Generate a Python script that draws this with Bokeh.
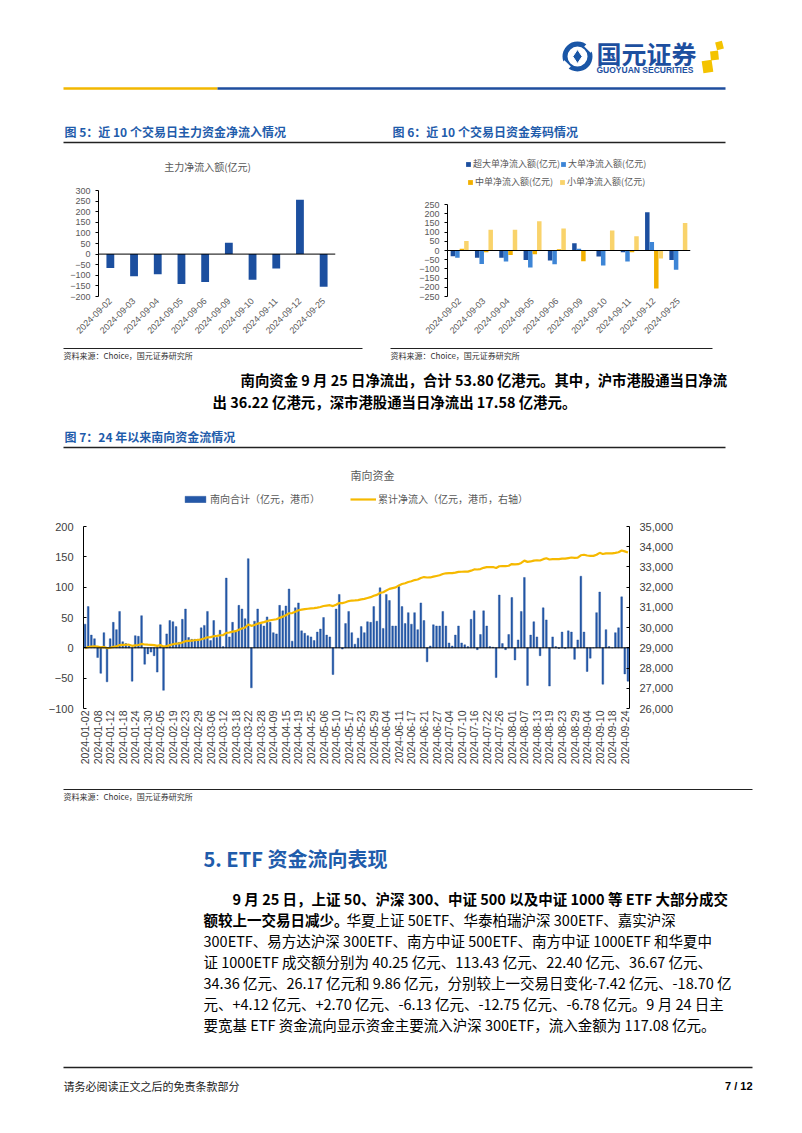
import math
from bokeh.plotting import figure
from bokeh.models import (Range1d, FactorRange, LinearAxis, FixedTicker, Span, Legend,
                          LegendItem, ColumnDataSource, NumeralTickFormatter, Label)
from bokeh.layouts import column, row
from bokeh.transform import dodge
from bokeh.core.properties import value
from bokeh.embed import file_html
from bokeh.resources import INLINE

CJK = "Noto Sans CJK SC"
LAT = "Liberation Sans"
BLUE = "#1C4F9F"
TITLE_BLUE = "#1F5CAB"
GRAY = "#595959"

# ---------------- data: figure 5 / 6 ----------------
fig5_dates = ["2024-09-02", "2024-09-03", "2024-09-04", "2024-09-05", "2024-09-06",
              "2024-09-09", "2024-09-10", "2024-09-11", "2024-09-12", "2024-09-25"]
main_inflow = [-65, -105, -95, -141, -132, 54, -121, -68, 256, -154]
fig5_yticks = [-200, -150, -100, -50, 0, 50, 100, 150, 200, 250, 300]

super_large = [-31, -40, -40, -51, -55, 40, -33, -9, 208, -51]
large_order = [-40, -73, -60, -93, -75, 9, -82, -60, 46, -104]
medium_order = [9, -9, -24, -20, 7, -58, -3, -9, -206, -3]
small_order = [51, 113, 113, 159, 119, 3, 109, 77, -44, 150]
fig6_yticks = [-250, -200, -150, -100, -50, 0, 50, 100, 150, 200, 250]

# ---------------- data: figure 7 (southbound) ----------------
south_days = (
    ["01-02", "01-03", "01-04", "01-05", "01-08", "01-09", "01-10", "01-11", "01-12", "01-15",
     "01-16", "01-17", "01-18", "01-19", "01-22", "01-23", "01-24", "01-25", "01-26", "01-29",
     "01-30", "01-31"] +
    ["02-01", "02-02", "02-05", "02-06", "02-07", "02-08", "02-19", "02-20", "02-21", "02-22",
     "02-23", "02-26", "02-27", "02-28", "02-29"] +
    ["03-01", "03-04", "03-05", "03-06", "03-07", "03-08", "03-11", "03-12", "03-13", "03-14",
     "03-15", "03-18", "03-19", "03-20", "03-21", "03-22", "03-25", "03-26", "03-27", "03-28"] +
    ["04-02", "04-03", "04-08", "04-09", "04-10", "04-11", "04-12", "04-15", "04-16", "04-17",
     "04-18", "04-19", "04-22", "04-23", "04-24", "04-25", "04-26", "04-29", "04-30"] +
    ["05-06", "05-07", "05-08", "05-09", "05-10", "05-13", "05-14", "05-16", "05-17", "05-20",
     "05-21", "05-22", "05-23", "05-24", "05-27", "05-28", "05-29", "05-30", "05-31"] +
    ["06-03", "06-04", "06-05", "06-06", "06-07", "06-11", "06-12", "06-13", "06-14", "06-17",
     "06-18", "06-19", "06-20", "06-21", "06-24", "06-25", "06-26", "06-27", "06-28"] +
    ["07-02", "07-03", "07-04", "07-05", "07-08", "07-09", "07-10", "07-11", "07-12", "07-15",
     "07-16", "07-17", "07-18", "07-19", "07-22", "07-23", "07-24", "07-25", "07-26", "07-29",
     "07-30", "07-31"] +
    ["08-01", "08-02", "08-05", "08-06", "08-07", "08-08", "08-09", "08-12", "08-13", "08-14",
     "08-15", "08-16", "08-19", "08-20", "08-21", "08-22", "08-23", "08-26", "08-27", "08-28",
     "08-29", "08-30"] +
    ["09-02", "09-03", "09-04", "09-05", "09-06", "09-09", "09-10", "09-11", "09-12", "09-13",
     "09-18", "09-19", "09-20", "09-23", "09-24", "09-25"]
)
south_dates = ["2024-" + d for d in south_days]

south_total = [
    39, 68, 21, 15, -16, -42, 25, -56, 15, 42,
    30, 60, 10, 7, 3, -55, 20, 19, 53, -27,
    -10, -7, -13, -40, 38, -70, 23, 45, 43, 35,
    9, 47, 64, 17, 14, 14, 14, 33, 37, 60,
    12, 45, 17, 29, 2, 115, 18, 42, 26, 70,
    64, 48, 147, -66, 44, 64, 39, 36, 51, 42,
    25, 23, 70, 61, 69, 97, 11, 66, 74, 28,
    24, 20, 18, 12, 26, 31, 50, 21, 18, -44,
    64, 88, -2, 40, 60, 25, 6, 16, 35, 25,
    43, 42, 68, 44, 99, 32, 88, 78, 36, 36,
    101, 68, 40, 58, 39, 58, 30, 74, 45, -23,
    3, 38, 36, 36, 60, 36, 8, 3, 21, 36,
    8, 5, 2, 47, 61, -3, 22, 61, 36, 2,
    1, -49, 87, 7, -3, 22, 83, -20, 13, 60,
    116, -62, 21, 43, 18, -13, 66, 46, -63, 18,
    2, -1, 26, -1, 28, 26, -19, 13, 118, 26,
    -39, -17, 0, 58, 92, -60, 30, 2, 0, 25,
    33, 84, -43, -55,
]

south_cum = [
    28974, 29042, 29063, 29078, 29062, 29020, 29045, 28989, 29004, 29046,
    29076, 29136, 29146, 29153, 29156, 29101, 29121, 29140, 29193, 29166,
    29156, 29149, 29136, 29096, 29134, 29064, 29087, 29132, 29175, 29210,
    29219, 29266, 29330, 29347, 29361, 29375, 29389, 29422, 29459, 29519,
    29531, 29576, 29593, 29622, 29624, 29739, 29757, 29799, 29825, 29895,
    29959, 30007, 30154, 30088, 30132, 30196, 30235, 30271, 30322, 30364,
    30389, 30412, 30482, 30543, 30612, 30709, 30720, 30786, 30860, 30888,
    30912, 30932, 30950, 30962, 30988, 31019, 31069, 31090, 31108, 31064,
    31128, 31216, 31214, 31254, 31314, 31339, 31345, 31361, 31396, 31421,
    31464, 31506, 31574, 31618, 31717, 31749, 31837, 31915, 31951, 31987,
    32088, 32156, 32196, 32254, 32293, 32351, 32381, 32455, 32500, 32477,
    32480, 32518, 32554, 32590, 32650, 32686, 32694, 32697, 32718, 32754,
    32762, 32767, 32769, 32816, 32877, 32874, 32896, 32957, 32993, 32995,
    32996, 32947, 33034, 33041, 33038, 33060, 33143, 33123, 33136, 33196,
    33312, 33250, 33271, 33314, 33332, 33319, 33385, 33431, 33368, 33386,
    33388, 33387, 33413, 33412, 33440, 33466, 33447, 33460, 33578, 33604,
    33565, 33548, 33548, 33606, 33698, 33638, 33668, 33670, 33670, 33695,
    33728, 33812, 33769, 33714,
]
south_left_ticks = [-100, -50, 0, 50, 100, 150, 200]
south_right_ticks = [26000, 27000, 28000, 29000, 30000, 31000, 32000, 33000, 34000, 35000]
south_label_step = 4

# ---------------- page text ----------------
fig5_title = "图 5：近 10 个交易日主力资金净流入情况"
fig6_title = "图 6：近 10 个交易日资金筹码情况"
fig5_chart_title = "主力净流入额(亿元)"
fig7_title = "图 7：24 年以来南向资金流情况"
fig7_chart_title = "南向资金"
source_text = "资料来源：Choice，国元证券研究所"
para1 = ["南向资金 9 月 25 日净流出，合计 53.80 亿港元。其中，沪市港股通当日净流",
         "出 36.22 亿港元，深市港股通当日净流出 17.58 亿港元。"]
heading5 = "5. ETF 资金流向表现"
para2_bold = ["9 月 25 日，上证 50、沪深 300、中证 500 以及中证 1000 等 ETF 大部分成交",
              "额较上一交易日减少。"]
para2_rest = ["华夏上证 50ETF、华泰柏瑞沪深 300ETF、嘉实沪深",
              "300ETF、易方达沪深 300ETF、南方中证 500ETF、南方中证 1000ETF 和华夏中",
              "证 1000ETF 成交额分别为 40.25 亿元、113.43 亿元、22.40 亿元、36.67 亿元、",
              "34.36 亿元、26.17 亿元和 9.86 亿元，分别较上一交易日变化-7.42 亿元、-18.70 亿",
              "元、+4.12 亿元、+2.70 亿元、-6.13 亿元、-12.75 亿元、-6.78 亿元。9 月 24 日主",
              "要宽基 ETF 资金流向显示资金主要流入沪深 300ETF，流入金额为 117.08 亿元。"]
footer_text = "请务必阅读正文之后的免责条款部分"
page_no = "7 / 12"

W = 802


def page_fig(y0, y1):
    p = figure(width=W, height=y1 - y0, x_range=Range1d(0, W), y_range=Range1d(y1, y0),
               output_backend="svg", toolbar_location=None, min_border=0,
               x_axis_type=None, y_axis_type=None, frame_align=False)
    p.outline_line_color = None
    p.background_fill_color = "white"
    p.border_fill_color = "white"
    return p


def put_text(p, x, y, s, size, color="#000000", bold=False, font=CJK, align="left"):
    p.text(x=[x], y=[y], text=[s], text_font=value(font), text_font_size=value("%spx" % size),
           text_color=color, text_font_style="bold" if bold else "normal",
           text_align=align, text_baseline="middle")


def hline(p, x0, x1, y, color, w):
    p.segment(x0=[x0], y0=[y], x1=[x1], y1=[y], line_color=color, line_width=w)


def style_axis(ax, size, color=GRAY):
    ax.major_label_text_font = LAT
    ax.major_label_text_font_size = size
    ax.major_label_text_color = color
    ax.minor_tick_line_color = None
    ax.axis_line_color = "#000000"
    ax.major_tick_line_color = "#000000"


def style_legend(lg, size, gw, gh, lh, spacing):
    lg.label_text_font = CJK
    lg.label_text_font_size = size
    lg.label_text_color = GRAY
    lg.glyph_width = gw
    lg.glyph_height = gh
    lg.label_standoff = 2
    lg.label_height = lh
    lg.spacing = spacing
    lg.padding = 0
    lg.margin = 0
    lg.border_line_color = None
    lg.background_fill_alpha = 0


# ---------------- header (page y 0..153) ----------------
hdr = page_fig(0, 153)
hdr.annulus(x=[577], y=[56], inner_radius=10, outer_radius=15, fill_color="#1A56A6",
            line_color=None)
hdr.rect(x=[589, 565], y=[47, 65], width=[6, 6], height=[9, 9], angle=[0.8, 0.8],
         fill_color="white", line_color=None)
hdr.scatter(x=[577], y=[56], marker="diamond", size=14, fill_color="#1A56A6",
            line_color="white", line_width=1)
put_text(hdr, 596, 52, "国元证券", 25, color="#1D4F9F", bold=True)
put_text(hdr, 596, 69, "GUOYUAN SECURITIES", 8.5, color="#1D4F9F", bold=True, font=LAT)
hdr.rect(x=[707, 714, 719], y=[66, 55, 45], width=[10, 8, 7], height=[12, 9, 8],
         angle=[0.15, 0.1, 0.25], fill_color="#F4C300", line_color=None)
hline(hdr, 63, 217, 88, "#F2B700", 2.5)
hline(hdr, 217, 725, 88, "#1F4E9E", 2.5)
put_text(hdr, 64, 131, fig5_title, 12, color=TITLE_BLUE, bold=True)
put_text(hdr, 392, 131, fig6_title, 12, color=TITLE_BLUE, bold=True)
hline(hdr, 63, 725, 142, "#222222", 1.5)

# ---------------- figure 5 (page x 0..385, y 153..346; frame extended upward for its title) ----
f5_plot_h = 106
f5_extra = 32
p5 = figure(width=385, height=193, x_range=FactorRange(factors=fig5_dates),
            y_range=Range1d(-200, 300 + f5_extra * 500.0 / f5_plot_h),
            output_backend="svg", toolbar_location=None,
            min_border_left=98, min_border_right=50, min_border_top=5, min_border_bottom=50,
            frame_align=False)
p5.outline_line_color = None
p5.grid.visible = False
p5.title.text = ""
p5.title.standoff = 0
p5.vbar(x=fig5_dates, top=main_inflow, width=0.33, fill_color=BLUE, line_color=None)
p5.add_layout(Span(location=0, dimension="width", line_color="#000000", line_width=1))
p5.add_layout(Label(x=4.6, y=300 + 24 * 500.0 / f5_plot_h, text=fig5_chart_title,
                    text_font=CJK, text_font_size="10px", text_color=GRAY,
                    text_align="center", text_baseline="middle"))
p5.yaxis.ticker = FixedTicker(ticks=fig5_yticks)
p5.yaxis.bounds = (-200, 300)
style_axis(p5.yaxis[0], "9px")
p5.yaxis.major_tick_in = 0
p5.yaxis.major_tick_out = 3
style_axis(p5.xaxis[0], "9px")
p5.xaxis.axis_line_color = None
p5.xaxis.major_tick_line_color = None
p5.xaxis.major_tick_out = 0
p5.xaxis.major_tick_in = 0
p5.xaxis.major_label_orientation = math.pi / 4
p5.xaxis.major_label_standoff = 3

# ---------------- figure 6 (page x 385..802; frame extended upward for its legend) ----------------
src6 = ColumnDataSource(dict(date=fig5_dates, sl=super_large, l=large_order,
                             m=medium_order, s=small_order))
f6_plot_h = 92
f6_extra = 46
p6 = figure(width=417, height=193, x_range=FactorRange(factors=fig5_dates),
            y_range=Range1d(-250, 250 + f6_extra * 500.0 / f6_plot_h),
            output_backend="svg", toolbar_location=None,
            min_border_left=62, min_border_right=112, min_border_top=5, min_border_bottom=50,
            frame_align=False)
p6.outline_line_color = None
p6.grid.visible = False
bw = 0.185
r_sl = p6.vbar(x=dodge("date", -1.5 * bw, range=p6.x_range), top="sl", width=bw, source=src6,
               fill_color="#1C4F9F", line_color=None)
r_l = p6.vbar(x=dodge("date", -0.5 * bw, range=p6.x_range), top="l", width=bw, source=src6,
              fill_color="#3D85D6", line_color=None)
r_m = p6.vbar(x=dodge("date", 0.5 * bw, range=p6.x_range), top="m", width=bw, source=src6,
              fill_color="#F2B000", line_color=None)
r_s = p6.vbar(x=dodge("date", 1.5 * bw, range=p6.x_range), top="s", width=bw, source=src6,
              fill_color="#F9D36B", line_color=None)
p6.add_layout(Span(location=0, dimension="width", line_color="#000000", line_width=1))
p6.yaxis.ticker = FixedTicker(ticks=fig6_yticks)
p6.yaxis.bounds = (-250, 250)
style_axis(p6.yaxis[0], "9px")
p6.yaxis.major_tick_in = 0
p6.yaxis.major_tick_out = 3
style_axis(p6.xaxis[0], "9px")
p6.xaxis.axis_line_color = None
p6.xaxis.major_tick_line_color = None
p6.xaxis.major_tick_out = 0
p6.xaxis.major_tick_in = 0
p6.xaxis.major_label_orientation = math.pi / 4
p6.xaxis.major_label_standoff = 3

leg6a = Legend(items=[LegendItem(label="超大单净流入额(亿元)", renderers=[r_sl]),
                      LegendItem(label="大单净流入额(亿元)", renderers=[r_l])],
               orientation="horizontal", location=(18, 126))
style_legend(leg6a, "9px", 6, 6, 10, 0)
leg6b = Legend(items=[LegendItem(label="中单净流入额(亿元)", renderers=[r_m]),
                      LegendItem(label="小单净流入额(亿元)", renderers=[r_s])],
               orientation="horizontal", location=(20, 108))
style_legend(leg6b, "9px", 6, 6, 10, 6)
p6.add_layout(leg6a)
p6.add_layout(leg6b)

# ---------------- middle text (page y 346..485) ----------------
mid = page_fig(346, 485)
hline(mid, 63, 362, 348, "#222222", 1)
hline(mid, 390, 712, 348, "#222222", 1)
put_text(mid, 63, 355, source_text, 8, color="#333333")
put_text(mid, 390, 355, source_text, 8, color="#333333")
put_text(mid, 240, 379, para1[0], 14.4, bold=True)
put_text(mid, 212, 401, para1[1], 14.4, bold=True)
put_text(mid, 64, 436, fig7_title, 12, color=TITLE_BLUE, bold=True)
hline(mid, 63, 725, 447, "#222222", 1.5)
put_text(mid, 372, 474, fig7_chart_title, 11, color=GRAY, align="center")

# ---------------- figure 7 (page y 485..788; frame extended upward for legend) ----------------
idx = list(range(len(south_total)))
f7_plot_h = 182
f7_extra = 37
p7 = figure(width=W, height=4 + f7_plot_h + f7_extra + 80,
            x_range=Range1d(-0.5, len(south_total) - 0.5),
            y_range=Range1d(-100, 200 + f7_extra * 300.0 / f7_plot_h),
            output_backend="svg", toolbar_location=None,
            min_border_left=83, min_border_right=173, min_border_top=4, min_border_bottom=80,
            frame_align=False)
p7.outline_line_color = None
p7.grid.visible = False
p7.extra_y_ranges = {"cum": Range1d(26000, 35000 + f7_extra * 9000.0 / f7_plot_h)}
bars7 = p7.vbar(x=idx, top=south_total, width=0.55, fill_color="#2458A8", line_color="#1B4C98",
                line_width=0.4)
p7.add_layout(Span(location=0, dimension="width", line_color="#000000", line_width=1))
line7 = p7.line(x=idx, y=south_cum, y_range_name="cum", line_color="#F6B900", line_width=2.2)
tick_idx = idx[::south_label_step]
p7.xaxis.ticker = FixedTicker(ticks=tick_idx)
p7.xaxis.major_label_overrides = {i: south_dates[i] for i in tick_idx}
style_axis(p7.xaxis[0], "10.5px", color="#404040")
p7.xaxis.axis_line_color = None
p7.xaxis.major_tick_line_color = None
p7.xaxis.major_tick_out = 0
p7.xaxis.major_tick_in = 0
p7.xaxis.major_label_orientation = math.pi / 2
p7.xaxis.major_label_standoff = 2
p7.yaxis.ticker = FixedTicker(ticks=south_left_ticks)
p7.yaxis.bounds = (-100, 200)
style_axis(p7.yaxis[0], "11px", color="#404040")
p7.yaxis.major_tick_in = 3
p7.yaxis.major_tick_out = 0
p7.yaxis.major_label_standoff = 10
rax = LinearAxis(y_range_name="cum", ticker=FixedTicker(ticks=south_right_ticks),
                 formatter=NumeralTickFormatter(format="0,0"), bounds=(26000, 35000))
style_axis(rax, "11px", color="#404040")
rax.major_tick_in = 3
rax.major_tick_out = 0
rax.major_label_standoff = 10
p7.add_layout(rax, "right")
leg7 = Legend(items=[LegendItem(label="南向合计（亿元，港币）", renderers=[bars7]),
                     LegendItem(label="累计净流入（亿元，港币，右轴）", renderers=[line7])],
              orientation="horizontal", location=(99, 202))
style_legend(leg7, "10px", 26, 8, 12, 30)
p7.add_layout(leg7)

# ---------------- bottom text (page y 788..1132) ----------------
bot = page_fig(788, 1132)
hline(bot, 63, 752, 789, "#222222", 1)
put_text(bot, 63, 796, source_text, 8, color="#333333")
put_text(bot, 203, 858, heading5, 20, color=TITLE_BLUE, bold=True)
put_text(bot, 232, 898, para2_bold[0], 14.5, bold=True)
put_text(bot, 203, 919, para2_bold[1], 14.5, bold=True)
put_text(bot, 346, 919, para2_rest[0], 14.5)
for k, line_txt in enumerate(para2_rest[1:]):
    put_text(bot, 203, 940 + 21 * k, line_txt, 14.5)
hline(bot, 63, 752, 1067, "#222222", 1.5)
put_text(bot, 63, 1085, footer_text, 11, color="#222222")
put_text(bot, 752, 1085, page_no, 11, bold=True, font=LAT, align="right")

layout = column(hdr, row(p5, p6), mid, p7, bot)
open("out.html", "w").write(file_html(layout, INLINE))
